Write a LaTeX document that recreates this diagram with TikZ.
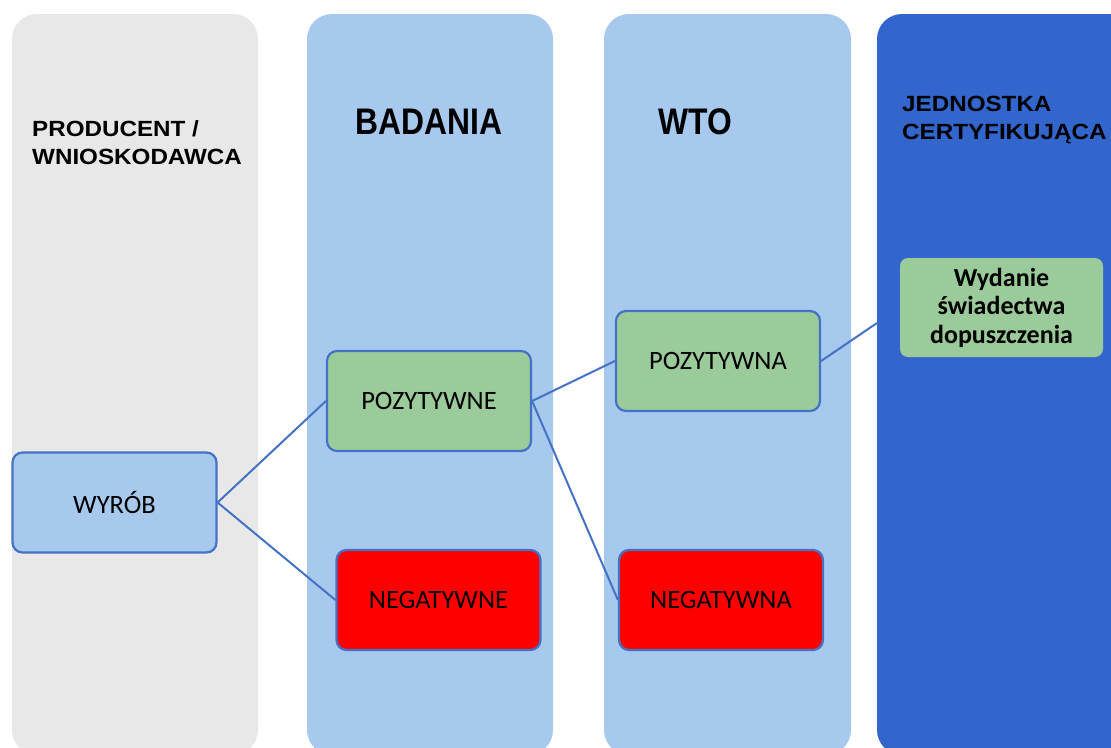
\documentclass[tikz,border=0pt]{standalone}
\usepackage{fontspec}
\setmainfont{Carlito}
\newfontfamily\headfont[FakeStretch=1.1]{Liberation Sans}
\newfontfamily\titlefont[FakeStretch=0.86]{Liberation Sans}
\definecolor{laneGray}{HTML}{E8E8E8}
\definecolor{laneBlue}{HTML}{A8C9EE}
\definecolor{laneDark}{HTML}{3366CC}
\definecolor{boxGreen}{HTML}{9BCB9A}
\definecolor{boxRed}{HTML}{FF0000}
\definecolor{edgeBlue}{HTML}{4472C4}

\begin{document}
\begin{tikzpicture}[x=1pt,y=-1pt,
  lane/.style={rounded corners=25pt},
  stage/.style={draw=edgeBlue, line width=2.2pt, rounded corners=10pt, minimum width=204pt, minimum height=100pt, font=\fontsize{26.5}{28}\selectfont},
  link/.style={draw=edgeBlue, line width=2pt},
  lanehead/.style={anchor=west, align=left, inner sep=0pt, font=\headfont\bfseries\fontsize{22}{28}\selectfont},
  lanetitle/.style={inner sep=0pt, font=\titlefont\bfseries\fontsize{37}{40}\selectfont}]
\useasboundingbox (0,0) rectangle (1111,747);
\clip (0,0) rectangle (1111,747);
\fill[lane, laneGray] (12,14) rectangle (258,755);
\fill[lane, laneBlue] (307,14) rectangle (553,755);
\fill[lane, laneBlue] (604,14) rectangle (851,755);
\fill[lane, laneDark] (877,14) rectangle (1140,755);

\node[lanehead] (producent) at (32,143) {PRODUCENT /\\WNIOSKODAWCA};
\node[lanetitle] (badania) at (429,122) {BADANIA};
\node[lanetitle] (wto) at (695,122) {WTO};
\node[lanehead] (jednostka) at (902,120) {JEDNOSTKA\\CERTYFIKUJĄCA};

\node[stage, fill=laneBlue] (wyrob) at (114.5,502.5) {WYRÓB};
\node[stage, fill=boxGreen] (pozytywne) at (429,401) {POZYTYWNE};
\node[stage, fill=boxRed] (negatywne) at (438.5,600) {NEGATYWNE};
\node[stage, fill=boxGreen] (pozytywna) at (718,361) {POZYTYWNA};
\node[stage, fill=boxRed] (negatywna) at (721,600) {NEGATYWNA};
\node[fill=boxGreen, rounded corners=8pt, minimum width=203pt, minimum height=99pt, align=center, font=\bfseries\fontsize{26}{28.5}\selectfont] (wydanie) at (1001.5,307.5) {Wydanie\\świadectwa\\dopuszczenia};
\coordinate (jcedge) at (877,323);

\draw[link] (wyrob.east) -- (pozytywne.west);
\draw[link] (wyrob.east) -- (negatywne.west);
\draw[link] (pozytywne.east) -- (pozytywna.west);
\draw[link] (pozytywne.east) -- (negatywna.west);
\draw[link] (pozytywna.east) -- (jcedge);
\end{tikzpicture}
\end{document}
